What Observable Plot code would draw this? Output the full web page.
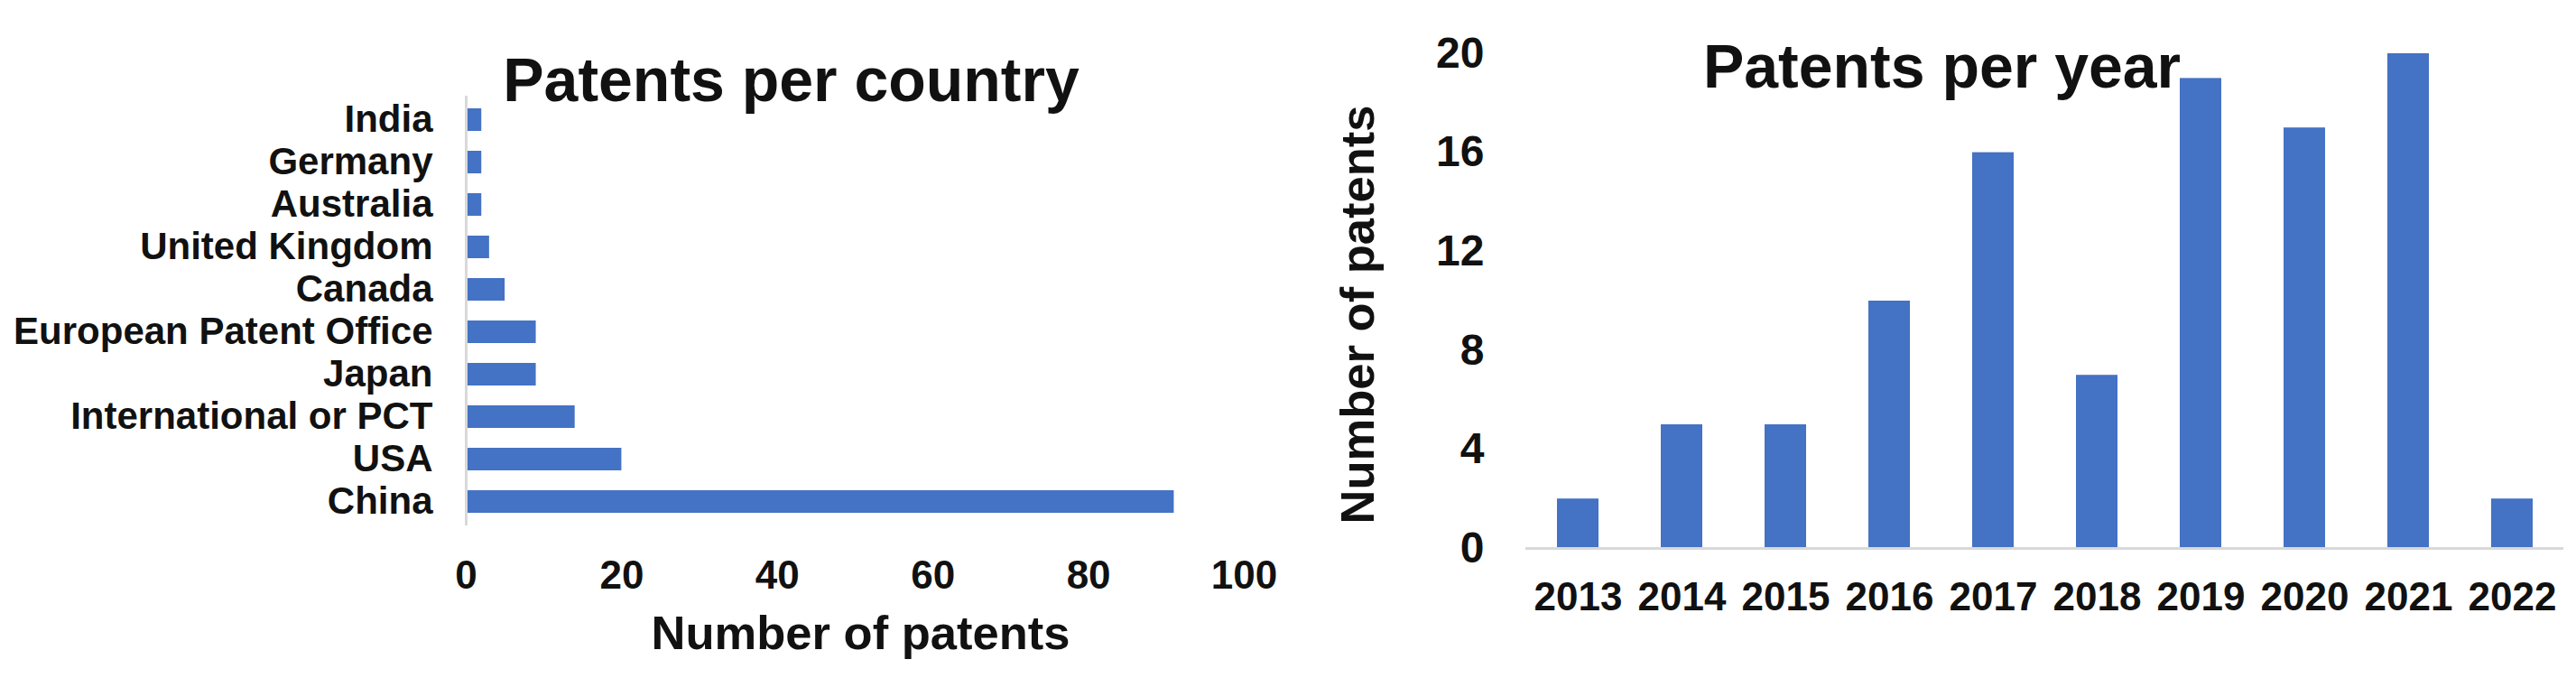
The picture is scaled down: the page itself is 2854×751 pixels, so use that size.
<!DOCTYPE html>
<html>
<head>
<meta charset="utf-8">
<script src="https://cdn.jsdelivr.net/npm/d3@7"></script>
<script src="https://cdn.jsdelivr.net/npm/@observablehq/plot@0.6"></script>
<style>
  html, body { margin: 0; padding: 0; background: #fff; }
  #page { position: relative; width: 2854px; height: 751px; overflow: hidden; background: #fff; }
  #left { position: absolute; left: 0; top: 0; }
  #right { position: absolute; left: 1420px; top: 0; }
</style>
</head>
<body>
<div id="page">
  <div id="left"></div>
  <div id="right"></div>
</div>
<script>
// ---- data ----
const countries = ["India", "Germany", "Australia", "United Kingdom", "Canada",
  "European Patent Office", "Japan", "International or PCT", "USA", "China"];
const countryPatents = [2, 2, 2, 3, 5, 9, 9, 14, 20, 91];
const countryTicks = [0, 20, 40, 60, 80, 100];

const years = ["2013", "2014", "2015", "2016", "2017", "2018", "2019", "2020", "2021", "2022"];
const yearPatents = [2, 5, 5, 10, 16, 7, 19, 17, 20, 2];
const yearTicks = [0, 4, 8, 12, 16, 20];

const titleLeft = "Patents per country";
const titleRight = "Patents per year";
const axisTitle = "Number of patents";

// ---- styling ----
const FONT = "'Liberation Sans', Arial, Helvetica, sans-serif";
const BAR = "#4472C4";
const AXISLINE = "#D9D9D9";
const INK = "#111";

const countryData = countries.map((c, i) => ({country: c, value: countryPatents[i]}));
const yearData = years.map((y, i) => ({year: y, value: yearPatents[i]}));

const baseStyle = {fontFamily: FONT, fontWeight: "bold", color: INK, background: "#fff", overflow: "visible"};

const left = Plot.plot({
  width: 1420,
  height: 751,
  marginLeft: 516,
  marginRight: 42,
  marginTop: 106,
  marginBottom: 169,
  style: baseStyle,
  x: {domain: [0, 100]},
  y: {domain: countries, paddingInner: 0.475, paddingOuter: 0.2375},
  marks: [
    Plot.barX(countryData, {x: "value", y: "country", fill: BAR}),
    Plot.ruleX([0], {stroke: AXISLINE, strokeWidth: 3}),
    Plot.axisX(countryTicks, {anchor: "bottom", tickSize: 0, tickPadding: 38, fontSize: 44, fontWeight: "bold", label: null}),
    Plot.axisY({anchor: "left", tickSize: 0, tickPadding: 37, fontSize: 42, fontWeight: "bold", label: null}),
    Plot.text([titleLeft], {text: d => d, frameAnchor: "top", dx: -71, dy: -43, fontSize: 68, fontWeight: "bold", fill: INK}),
    Plot.text([axisTitle], {text: d => d, frameAnchor: "bottom", dx: 6, dy: 136, fontSize: 52.5, fontWeight: "bold", fill: INK})
  ]
});
document.getElementById("left").appendChild(left);

const right = Plot.plot({
  width: 1434,
  height: 751,
  marginLeft: 270,
  marginRight: 14,
  marginTop: 59,
  marginBottom: 144,
  style: baseStyle,
  x: {domain: years, paddingInner: 0.6, paddingOuter: 0.3},
  y: {domain: [0, 20]},
  marks: [
    Plot.barY(yearData, {x: "year", y: "value", fill: BAR}),
    Plot.ruleY([0], {stroke: AXISLINE, strokeWidth: 3}),
    Plot.axisX({anchor: "bottom", tickSize: 0, tickPadding: 37, fontSize: 44, fontWeight: "bold", label: null}),
    Plot.axisY(yearTicks, {anchor: "left", tickSize: 0, tickPadding: 46, fontSize: 48, fontWeight: "bold", label: null}),
    Plot.text([titleRight], {text: d => d, frameAnchor: "top", dx: -114, dy: -11, fontSize: 68, fontWeight: "bold", fill: INK}),
    Plot.text([axisTitle], {text: d => d, frameAnchor: "left", textAnchor: "middle", rotate: -90, dx: -185, dy: 15, fontSize: 52.5, fontWeight: "bold", fill: INK})
  ]
});
document.getElementById("right").appendChild(right);
</script>
</body>
</html>
